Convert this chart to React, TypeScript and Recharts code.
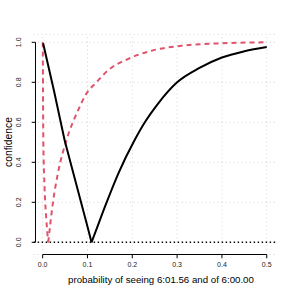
import React from "react";
import { ComposedChart, Line, XAxis, YAxis, CartesianGrid, ReferenceLine } from "recharts";

const xTicks = [0, 0.1, 0.2, 0.3, 0.4, 0.5];
const yTicks = [0, 0.2, 0.4, 0.6, 0.8, 1.0];

// black curve: descending branch and rising branch (share the vertex)
const blackDownP = [0.001, 0.025, 0.049, 0.075, 0.101, 0.109];
const blackDownC = [0.995, 0.76, 0.51, 0.29, 0.07, 0.0];
const blackUpP = [0.109, 0.125, 0.139, 0.169, 0.205, 0.228, 0.258, 0.3, 0.35, 0.4, 0.45, 0.5];
const blackUpC = [0.0, 0.095, 0.178, 0.345, 0.51, 0.6, 0.695, 0.8, 0.872, 0.924, 0.955, 0.976];

// red dashed curve: descending branch and rising branch
const redDownP = [0.0003, 0.0008, 0.0015, 0.0045, 0.008, 0.0125];
const redDownC = [1.0, 0.75, 0.51, 0.26, 0.12, 0.0];
const redUpP = [0.0125, 0.023, 0.034, 0.053, 0.079, 0.098, 0.12, 0.146, 0.191, 0.243, 0.31, 0.4, 0.5];
const redUpC = [0.0, 0.2, 0.345, 0.51, 0.66, 0.745, 0.8, 0.86, 0.917, 0.958, 0.983, 0.995, 1.0];

const toData = (ps: number[], cs: number[]) => ps.map((p, i) => ({ p, c: cs[i] }));
const blackDown = toData(blackDownP, blackDownC);
const blackUp = toData(blackUpP, blackUpC);
const redDown = toData(redDownP, redDownC);
const redUp = toData(redUpP, redUpC);

const X_AXIS_AT = -0.061;
const X_DOMAIN: [number, number] = [-0.02, 0.52];
const Y_DOMAIN: [number, number] = [X_AXIS_AT, 1.04];
const Y_AXIS_AT = -0.016;
const GRID_Y: [number, number] = [-0.04, 1.04];

const FONT = "'Liberation Sans', Arial, Helvetica, sans-serif";

const YTick = (props: any) => {
  const { x, y, payload } = props;
  const ax = x + 1.8;
  return (
    <g>
      <line x1={ax - 3.8} x2={ax} y1={y} y2={y} stroke="#000" strokeWidth={1} />
      <text
        x={19}
        y={y}
        transform={`rotate(-90 19 ${y})`}
        textAnchor="middle"
        dominantBaseline="central"
        fontSize={7}
        fontFamily={FONT}
        fill="#222"
      >
        {Number(payload.value).toFixed(1)}
      </text>
    </g>
  );
};

const XTick = (props: any) => {
  const { x, y, payload } = props;
  return (
    <g>
      <line x1={x} x2={x} y1={y} y2={y + 3.8} stroke="#000" strokeWidth={1} />
      <text
        x={x}
        y={264}
        textAnchor="middle"
        dominantBaseline="central"
        fontSize={7}
        fontFamily={FONT}
        fill="#222"
      >
        {Number(payload.value).toFixed(1)}
      </text>
    </g>
  );
};

const lineCommon = {
  dataKey: "c",
  dot: false,
  activeDot: false,
  isAnimationActive: false,
} as const;

export default function App() {
  return (
    <div style={{ position: "fixed", left: 0, top: 0, width: 294, height: 294, background: "#fff" }}>
      <ComposedChart
        width={294}
        height={294}
        margin={{ top: 34.3, right: 18.3, bottom: 0, left: 0 }}
      >
        <CartesianGrid
          stroke="#D3D3D3"
          strokeDasharray="1 3"
          strokeWidth={1}
          vertical={false}
        />
        <XAxis
          type="number"
          dataKey="p"
          domain={X_DOMAIN}
          allowDataOverflow
          ticks={xTicks}
          height={39.5}
          axisLine={false}
          tickLine={false}
          tickSize={0}
          tickMargin={0}
          tick={<XTick />}
          interval={0}
        />
        <YAxis
          type="number"
          dataKey="c"
          domain={Y_DOMAIN}
          allowDataOverflow
          ticks={yTicks}
          width={33.7}
          axisLine={false}
          tickLine={false}
          tickSize={0}
          tickMargin={0}
          tick={<YTick />}
          interval={0}
        />
        {xTicks.map((t) => (
          <ReferenceLine
            key={`vg-${t}`}
            segment={[{ x: t, y: GRID_Y[0] }, { x: t, y: GRID_Y[1] }]}
            stroke="#D3D3D3"
            strokeWidth={1}
            strokeDasharray="1 3"
            ifOverflow="visible"
          />
        ))}
        <ReferenceLine
          segment={[{ x: Y_AXIS_AT, y: 0 }, { x: Y_AXIS_AT, y: 1 }]}
          stroke="#000"
          strokeWidth={1}
          ifOverflow="visible"
        />
        <ReferenceLine
          segment={[{ x: 0, y: X_AXIS_AT }, { x: 0.5, y: X_AXIS_AT }]}
          stroke="#000"
          strokeWidth={1}
          ifOverflow="visible"
        />
        <ReferenceLine y={0} stroke="#000" strokeWidth={1.4} strokeDasharray="1.4 2.6" />
        <Line {...lineCommon} data={redDown} type="monotone" stroke="#DF536B" strokeWidth={2} strokeDasharray="5 4" />
        <Line {...lineCommon} data={redUp} type="monotone" stroke="#DF536B" strokeWidth={2} strokeDasharray="5 4" />
        <Line {...lineCommon} data={blackDown} type="linear" stroke="#000" strokeWidth={2} />
        <Line {...lineCommon} data={blackUp} type="monotone" stroke="#000" strokeWidth={2} />
        <text
          x={161}
          y={279}
          textAnchor="middle"
          dominantBaseline="central"
          fontSize={9.7}
          fontFamily={FONT}
          fill="#000"
        >
          probability of seeing 6:01.56 and of 6:00.00
        </text>
        <text
          x={8}
          y={142}
          transform="rotate(-90 8 142)"
          textAnchor="middle"
          dominantBaseline="central"
          fontSize={10.3}
          fontFamily={FONT}
          fill="#000"
        >
          confidence
        </text>
      </ComposedChart>
    </div>
  );
}
